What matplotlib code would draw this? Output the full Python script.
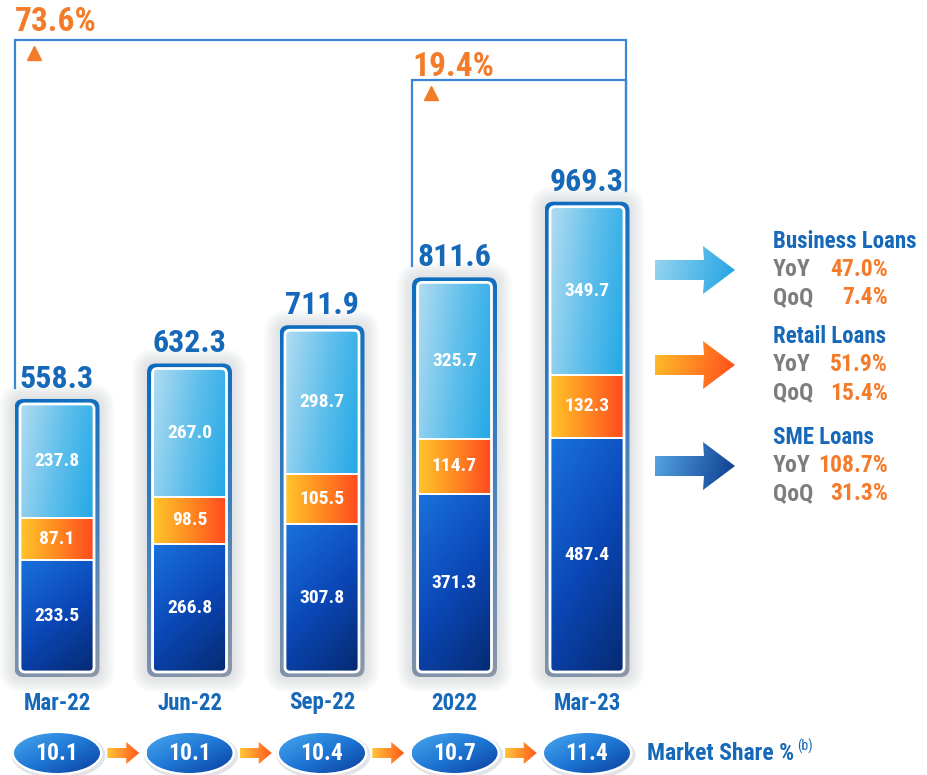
import numpy as np
import matplotlib
matplotlib.use("Agg")
import matplotlib.pyplot as plt
from matplotlib import font_manager
from matplotlib.colors import to_rgb
from matplotlib.patches import FancyBboxPatch, Ellipse, Polygon

# data
periods = ["Mar-22", "Jun-22", "Sep-22", "2022", "Mar-23"]
sme = [233.5, 266.8, 307.8, 371.3, 487.4]
retail = [87.1, 98.5, 105.5, 114.7, 132.3]
business = [237.8, 267.0, 298.7, 325.7, 349.7]
totals = [558.3, 632.3, 711.9, 811.6, 969.3]
market_share = [10.1, 10.1, 10.4, 10.7, 11.4]
growth = [("73.6%", 0, 4), ("19.4%", 3, 4)]
seg_names = ["Business Loans", "Retail Loans", "SME Loans"]
seg_yoy = ["47.0%", "51.9%", "108.7%"]
seg_qoq = ["7.4%", "15.4%", "31.3%"]

names = {f.name for f in font_manager.fontManager.ttflist}
font = next((f for f in ["Roboto Condensed", "Liberation Sans Narrow", "Roboto"] if f in names), "DejaVu Sans")
plt.rcParams["font.family"] = [font, "DejaVu Sans"]
plt.rcParams["font.weight"] = "bold"

BLUE = "#1668b8"
ORANGE = "#f47b2a"
GRAY = "#7d7d7d"
LINE = "#3a86d4"

XPX = 132.5   # pixels per category
PX = 0.48     # pixels per value unit


def dx(p):  # pixel x -> data x
    return (p - 57) / XPX


def dy(p):  # pixel y (from top) -> data y
    return (672 - p) / PX


fig = plt.figure(figsize=(9.27, 7.75), dpi=100)
ax = fig.add_axes([0, 0, 1, 1])
ax.set_xlim(dx(0), dx(927))
ax.set_ylim(dy(775), dy(0))
ax.axis("off")
ax.set_autoscale_on(False)


def shade(extent, stops, wx, wy, clip, z):
    xx, yy = np.meshgrid(np.linspace(0, 1, 64), np.linspace(0, 1, 64))
    t = wx * xx + wy * (1 - yy)
    t = (t - t.min()) / (t.max() - t.min())
    cols = np.array([to_rgb(c) for c in stops])
    pos = np.linspace(0, 1, len(stops))
    img = np.stack([np.interp(t, pos, cols[:, k]) for k in range(3)], axis=-1)
    im = ax.imshow(img, extent=extent, origin="lower", aspect="auto",
                   zorder=z, interpolation="bilinear")
    im.set_clip_path(clip)


def rbox(x0, y0, w, h, r_px, **kw):
    return FancyBboxPatch((x0, y0), w, h, boxstyle=f"round,pad=0,rounding_size={r_px / XPX}",
                          mutation_aspect=XPX / PX, **kw)


W_OUT = 85 / XPX
W_IN = 74 / XPX
pad = 5 / PX
x = np.arange(len(periods))

# outer frames + shadows
for i in x:
    top = sme[i] + retail[i] + business[i]
    for k in range(6, 0, -1):
        s = k * 2.5
        ax.add_patch(rbox(i - W_OUT / 2 - s / XPX, -pad - s / PX, W_OUT + 2 * s / XPX,
                          top + 2 * pad + 2 * s / PX, 9 + s, fc="#9aa0a8", ec="none",
                          alpha=0.05, zorder=1))
    outer = rbox(i - W_OUT / 2, -pad, W_OUT, top + 2 * pad, 9, fc="none", ec="none", zorder=2)
    ax.add_patch(outer)
    shade((i - W_OUT / 2, i + W_OUT / 2, -pad, top + pad),
          ["#0b6cc0", "#3e7fbf", "#8c97a6"], 0.1, 1.0, outer, 2)

# stacked segments
inner = []
for i in x:
    top = sme[i] + retail[i] + business[i]
    p = rbox(i - W_IN / 2, 0, W_IN, top, 5, fc="none", ec="white", lw=2, zorder=5)
    ax.add_patch(p)
    inner.append(p)

b_sme = ax.bar(x, sme, W_IN, color="none", edgecolor="white", lw=1.2, zorder=4)
b_ret = ax.bar(x, retail, W_IN, bottom=sme, color="none", edgecolor="white", lw=1.2, zorder=4)
b_bus = ax.bar(x, business, W_IN, bottom=np.add(sme, retail), color="none",
               edgecolor="white", lw=1.2, zorder=4)

styles = [(b_sme, sme, ["#1a72dc", "#0b48b8", "#062a72"], 0.35, 0.65),
          (b_ret, retail, ["#ffc52a", "#ff8a22", "#ff4a1f"], 1.0, 0.0),
          (b_bus, business, ["#b2dcf1", "#62c0ec", "#22a8e6"], 0.8, 0.2)]
for bars, vals, stops, wx, wy in styles:
    for i, r in enumerate(bars):
        r.set_clip_path(inner[i])
        x0, y0, w, h = r.get_x(), r.get_y(), r.get_width(), r.get_height()
        shade((x0, x0 + w, y0, y0 + h), stops, wx, wy, inner[i], 3)
        ax.text(x0 + w / 2, y0 + h / 2, f"{vals[i]:.1f}", ha="center", va="center",
                color="white", fontsize=14, zorder=6)

# totals above bars
base = []
for i in x:
    yb = totals[i] + pad + 11 / PX
    base.append(yb)
    ax.text(i, yb, f"{totals[i]:.1f}", ha="center", va="baseline", fontsize=23,
            color=BLUE, zorder=6)

# growth brackets
for (label, a, b), ytop, tgap in zip(growth, [40, 80], [9, 4]):
    lx = a - W_OUT / 2
    rx = b + W_OUT / 2 - 4 / XPX
    yt = dy(ytop)
    ax.plot([lx, lx, rx, rx], [base[a], yt, yt, base[b]], color=LINE, lw=1.6, zorder=6,
            solid_joinstyle="miter")
    ax.text(lx, yt + tgap / PX, label, ha="left", va="baseline", fontsize=24,
            color=ORANGE, zorder=6)
    ax.plot(lx + 19 / XPX, yt - 13 / PX, marker="^", ms=10, color=ORANGE, zorder=6)

# category labels
for i, p in enumerate(periods):
    ax.text(i, dy(703), p, ha="center", va="center", fontsize=16.5, color=BLUE)

# market share bubbles
yc = dy(753)
ew, eh = 86 / XPX, 40 / PX
for i, v in enumerate(market_share):
    ax.add_patch(Ellipse((i + 1.5 / XPX, yc - 2 / PX), ew + 8 / XPX, eh + 8 / PX,
                         fc="#d4d8de", ec="none", alpha=0.7, zorder=2))
    ax.add_patch(Ellipse((i, yc), ew + 5 / XPX, eh + 5 / PX, fc="white", ec="none", zorder=2))
    e = Ellipse((i, yc), ew, eh, fc="none", ec="none", zorder=3)
    ax.add_patch(e)
    shade((i - ew / 2, i + ew / 2, yc - eh / 2, yc + eh / 2),
          ["#4aa8ee", "#1f78d6", "#0a3f9e"], 0.5, 0.5, e, 3)
    ax.text(i, yc, f"{v:.1f}", ha="center", va="center", color="white", fontsize=17, zorder=6)
    if i < len(market_share) - 1:
        cx = i + 0.5
        pts = [(-16, -5), (3, -5), (3, -11), (16, 0), (3, 11), (3, 5), (-16, 5)]
        arr = Polygon([(cx + a / XPX, yc + b / PX) for a, b in pts], closed=True,
                      fc="none", ec="none", zorder=3)
        ax.add_patch(arr)
        shade((cx - 16 / XPX, cx + 16 / XPX, yc - 11 / PX, yc + 11 / PX),
              ["#ffc43a", "#ff5a1c"], 1.0, 0.0, arr, 3)

ms = ax.text(dx(647), yc, "Market Share %", ha="left", va="center", fontsize=17, color=BLUE)
ax.annotate("(b)", xy=(1, 0.45), xycoords=ms, xytext=(2, 0), textcoords="offset points",
            ha="left", va="bottom", fontsize=10, fontweight="normal", color=BLUE)

# segment legend on the right
arrow_cols = [["#9ad6f1", "#1ea2e2"], ["#ffc02a", "#ff4a1a"], ["#57a6e6", "#0b3c8c"]]
for k, y0 in enumerate([242, 337, 438]):
    ya = y0 + 28
    pts = [(655, ya - 10), (704, ya - 10), (703, ya - 24), (735, ya),
           (703, ya + 24), (704, ya + 10), (655, ya + 10)]
    arr = Polygon([(dx(a), dy(b)) for a, b in pts], closed=True, fc="none", ec="none", zorder=3)
    ax.add_patch(arr)
    shade((dx(655), dx(735), dy(ya + 24), dy(ya - 24)), arrow_cols[k], 1.0, 0.15, arr, 3)
    ax.text(dx(773), dy(y0), seg_names[k], ha="left", va="center", fontsize=16.5, color=BLUE)
    ax.text(dx(773), dy(y0 + 28), "YoY", ha="left", va="center", fontsize=17, color=GRAY)
    ax.text(dx(888), dy(y0 + 28), seg_yoy[k], ha="right", va="center", fontsize=17, color=ORANGE)
    ax.text(dx(773), dy(y0 + 56), "QoQ", ha="left", va="center", fontsize=17, color=GRAY)
    ax.text(dx(888), dy(y0 + 56), seg_qoq[k], ha="right", va="center", fontsize=17, color=ORANGE)

fig.savefig("out.png", dpi=100, facecolor="white")
